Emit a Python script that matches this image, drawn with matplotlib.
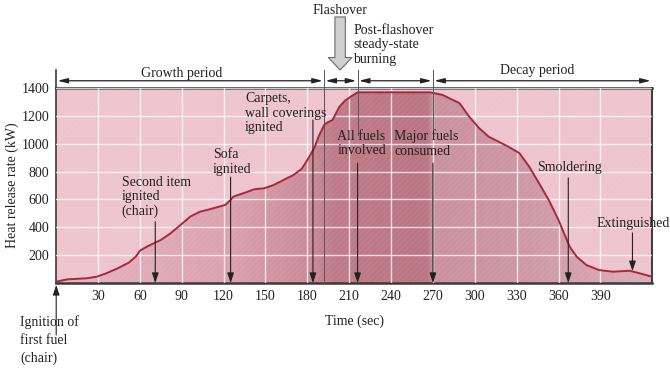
import numpy as np
import matplotlib
matplotlib.use("Agg")
import matplotlib.pyplot as plt
from matplotlib.colors import LinearSegmentedColormap

# curve: time (s) vs heat release rate (kW)
time_s = [0, 8, 22, 29, 36, 44, 52, 57, 60, 65, 71, 75, 82, 89, 96, 103, 108, 115,
          121, 125, 127, 134, 142, 149, 156, 163, 170, 176, 181, 185, 188, 192, 194,
          198, 203, 207, 211, 216, 268, 277, 283, 289, 296, 303, 310, 317, 324, 332,
          339, 346, 353, 360, 365, 368, 373, 380, 389, 399, 411, 418, 427]
hrr_kw = [10, 26, 34, 45, 70, 105, 146, 189, 232, 261, 290, 309, 357, 416, 476, 512,
          524, 543, 560, 596, 620, 644, 673, 680, 704, 740, 775, 820, 900, 970, 1050,
          1134, 1151, 1170, 1266, 1310, 1337, 1369, 1369, 1350, 1320, 1292, 1194, 1113,
          1050, 1015, 979, 932, 835, 717, 596, 452, 332, 261, 189, 129, 93, 81, 88, 70, 45]

x_ticks = [30, 60, 90, 120, 150, 180, 210, 240, 270, 300, 330, 360, 390]
y_ticks = [200, 400, 600, 800, 1000, 1200, 1400]

# periods along the top: (start, end)
periods = [(0, 192), (192, 216), (216, 270), (270, 427)]
period_names = ["Growth period", "Decay period"]

# event arrows: (time, arrow top, arrow bottom)
events = [(71, 440, 0), (125, 760, 0), (184, 1170, 0), (216, 860, 0),
          (270, 860, 0), (367, 755, 0), (413, 360, 85)]

plt.rcParams['font.family'] = ['Liberation Serif', 'DejaVu Serif']
plt.rcParams['hatch.linewidth'] = 0.4

BG = '#EEC4CE'
LINE = '#A8283F'
INK = '#222222'

fig = plt.figure(figsize=(6.7, 3.71), dpi=100)
ax = fig.add_axes([56.2 / 670, 1 - 283 / 371, (652 - 56.2) / 670, (283 - 88) / 371])
ax.set_xlim(0, 427)
ax.set_ylim(0, 1400)
ax.set_facecolor(BG)

# gradient fill under the curve
stops = [(0.0, '#E6B4C0'), (120 / 427, '#DCA3B0'), (180 / 427, '#CB8C98'),
         (200 / 427, '#BF7B88'), (266 / 427, '#BA7683'), (271 / 427, '#CA929E'),
         (330 / 427, '#CD97A3'), (1.0, '#DCAEB9')]
cmap = LinearSegmentedColormap.from_list('fire', stops)
poly = ax.fill_between(time_s, hrr_kw, 0, color='none')
img = ax.imshow(np.linspace(0, 1, 600)[None, :], extent=[0, 427, 0, 1400],
                aspect='auto', cmap=cmap, origin='lower', zorder=1)
img.set_clip_path(poly.get_paths()[0], transform=ax.transData)

# faint texture
ax.fill_between([0, 427], 0, 1400, facecolor='none', edgecolor=(1, 1, 1, 0.12),
                hatch='//////', linewidth=0, zorder=1.2)

ax.set_xticks(x_ticks)
ax.set_yticks(y_ticks)
ax.grid(True, color='white', lw=1.0, alpha=0.75)
ax.set_axisbelow(False)
for gl in ax.get_xgridlines() + ax.get_ygridlines():
    gl.set_zorder(1.5)
ax.tick_params(length=0, labelsize=10, pad=5, colors=INK)

ax.plot(time_s, hrr_kw, color=LINE, lw=1.4, zorder=3)

for side, lw in [('left', 1.2), ('right', 1.4), ('top', 1.8), ('bottom', 1.8)]:
    ax.spines[side].set_linewidth(lw)
    ax.spines[side].set_color('#3a3a3a')

ax.set_xlabel("Time (sec)", fontsize=10, labelpad=8, color=INK)
ax.set_ylabel("Heat release rate (kW)", fontsize=10, labelpad=2, color=INK)

# period arrows and separators above the plot
arrow_y = 1452
for x0, x1 in periods:
    ax.annotate('', xy=(x1 - 1, arrow_y), xytext=(x0 + 1, arrow_y),
                arrowprops=dict(arrowstyle='<|-|>,head_length=0.6,head_width=0.15',
                                lw=0.9, color=INK, shrinkA=0, shrinkB=0),
                annotation_clip=False, zorder=5)
ax.plot([0, 0], [1400, 1530], color='#3a3a3a', lw=1.2, clip_on=False)
ax.plot([192, 192], [0, 1530], color='#555555', lw=0.7, clip_on=False, zorder=4)
for x in (216, 270):
    ax.plot([x, x], [1060, 1530], color='#555555', lw=0.7, clip_on=False, zorder=4)

ax.text(90, 1507, period_names[0], ha='center', va='center', fontsize=10, color=INK)
ax.text(345, 1529, period_names[1], ha='center', va='center', fontsize=10, color=INK)

# Flashover
ax.text(203.5, 1953, "Flashover", ha='center', va='center', fontsize=10, color=INK)
ax.annotate('', xy=(203.5, 1529), xytext=(203.5, 1910),
            arrowprops=dict(arrowstyle='simple,head_length=0.9,head_width=1.7,tail_width=0.75',
                            fc='#cfcfcf', ec='#6a6a6a', lw=0.8, shrinkA=0, shrinkB=0),
            annotation_clip=False)
ax.text(213, 1709, "Post-flashover\nsteady-state\nburning", ha='left', va='center',
        fontsize=10, linespacing=1.15, color=INK)

# event labels
labels = [(47, 617, "Second item\nignited\n(chair)"),
          (112.4, 869, "Sofa\nignited"),
          (135.4, 1220, "Carpets,\nwall coverings\nignited"),
          (201.4, 1001, "All fuels\ninvolved"),
          (242.3, 1001, "Major fuels\nconsumed"),
          (344.8, 826, "Smoldering"),
          (387, 424, "Extinguished")]
for x, y, s in labels:
    ax.text(x, y, s, ha='left', va='center', fontsize=10, linespacing=1.15,
            color=INK, zorder=6)

for x, top, bottom in events:
    ax.annotate('', xy=(x, bottom), xytext=(x, top),
                arrowprops=dict(arrowstyle='-|>,head_length=0.6,head_width=0.2',
                                lw=0.8, color=INK, shrinkA=0, shrinkB=0),
                zorder=5)

# ignition of first fuel, below the axis
ax.annotate('', xy=(0, -14), xytext=(0, -373),
            arrowprops=dict(arrowstyle='-|>,head_length=0.6,head_width=0.2',
                            lw=0.8, color=INK, shrinkA=0, shrinkB=0),
            annotation_clip=False)
ax.text(-26, -409, "Ignition of\nfirst fuel\n(chair)", ha='left', va='center',
        fontsize=10, linespacing=1.5, color=INK)

fig.savefig("out.png", dpi=100)
